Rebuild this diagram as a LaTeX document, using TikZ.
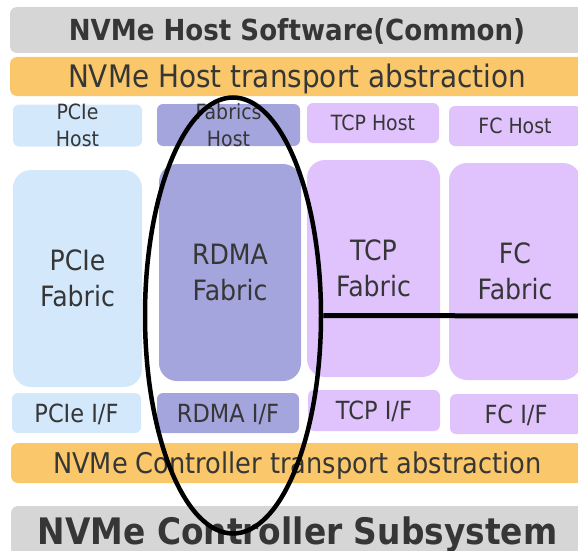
\documentclass[tikz,border=0pt]{standalone}
\usepackage{fontspec}
\setmainfont{DejaVu Sans}[FakeStretch=0.9]
\usetikzlibrary{shapes.geometric}
\definecolor{bargray}{HTML}{D6D6D6}
\definecolor{barorange}{HTML}{FAC86B}
\definecolor{pcieblue}{HTML}{D4E8FC}
\definecolor{rdmablue}{HTML}{A5A5DE}
\definecolor{tcplilac}{HTML}{E0C3FD}
\definecolor{inkgray}{HTML}{363636}
\tikzset{
	box/.style={inner sep=0pt,outer sep=0pt,text=inkgray,align=center,text depth=0pt},
	titlebar/.style={box,fill=bargray,rounded corners=7pt,font=\bfseries\fontsize{29}{35}\selectfont,text height=21pt},
	layerbar/.style={box,fill=barorange,rounded corners=7pt,font=\fontsize{31}{37}\selectfont,text height=22.6pt},
	hostbox/.style={box,rounded corners=6pt,font=\fontsize{21}{27}\selectfont,text height=15.3pt,minimum height=40pt},
	hosttwo/.style={hostbox,text height=42pt,text depth=-2pt},
	fabricbox/.style={box,rounded corners=18pt,font=\fontsize{28}{36}\selectfont,text height=56.4pt,minimum height=217pt},
	ifbox/.style={box,rounded corners=6pt,font=\fontsize{25}{30}\selectfont,text height=18.2pt,minimum height=40pt}
}
\begin{document}
\begin{tikzpicture}[x=1pt,y=-1pt]
	\useasboundingbox (0,0) rectangle (578,551);
	\clip (0,0) rectangle (578,551);
	\node[titlebar,minimum width=574pt,minimum height=46pt](hostsw) at (297,30){NVMe Host Software(Common)};
	\node[layerbar,minimum width=574pt,minimum height=39pt](hostabs) at (297,76.5){NVMe Host transport abstraction};
	\node[hosttwo,fill=pcieblue,minimum width=129pt](pciehost) at (77.5,125.5){PCIe\\Host};
	\node[hosttwo,fill=rdmablue,minimum width=143pt](fabhost) at (228.5,125){Fabrics\\Host};
	\node[hostbox,fill=tcplilac,minimum width=132pt](tcphost) at (373,123){TCP Host};
	\node[hostbox,fill=tcplilac,minimum width=132pt](fchost) at (515,126){FC Host};
	\node[fabricbox,fill=pcieblue,minimum width=129pt](pciefab) at (77.5,278.5){PCIe\\Fabric};
	\node[fabricbox,fill=rdmablue,minimum width=142pt](rdmafab) at (230,272.5){RDMA\\Fabric};
	\node[fabricbox,fill=tcplilac,minimum width=133pt](tcpfab) at (373.5,268.5){TCP\\Fabric};
	\node[fabricbox,fill=tcplilac,minimum width=132pt](fcfab) at (515,271.5){FC\\Fabric};
	\node[ifbox,fill=pcieblue,minimum width=129pt](pcieif) at (76.5,413){PCIe I/F};
	\node[ifbox,fill=rdmablue,minimum width=142pt](rdmaif) at (228,413){RDMA I/F};
	\node[ifbox,fill=tcplilac,minimum width=132pt,minimum height=41pt](tcpif) at (374,410.5){TCP I/F};
	\node[ifbox,fill=tcplilac,minimum width=132pt](fcif) at (516,414){FC I/F};
	\node[layerbar,font=\fontsize{28.5}{34}\selectfont,text height=20.7pt,minimum width=573pt,minimum height=40pt](ctrlabs) at (297.5,463){NVMe Controller transport abstraction};
	\node[titlebar,font=\bfseries\fontsize{36.5}{42}\selectfont,text height=26.6pt,minimum width=573pt,minimum height=50pt](ctrlsub) at (297.5,531){NVMe Controller Subsystem};
	\node[ellipse,draw,line width=4.5pt,inner sep=0pt,minimum width=176pt,minimum height=436pt](focus) at (233,315.5){};
	\coordinate (rim) at (590,316);
	\draw[line width=5pt] (focus.east)--(rim);
	
\end{tikzpicture}
\end{document}
